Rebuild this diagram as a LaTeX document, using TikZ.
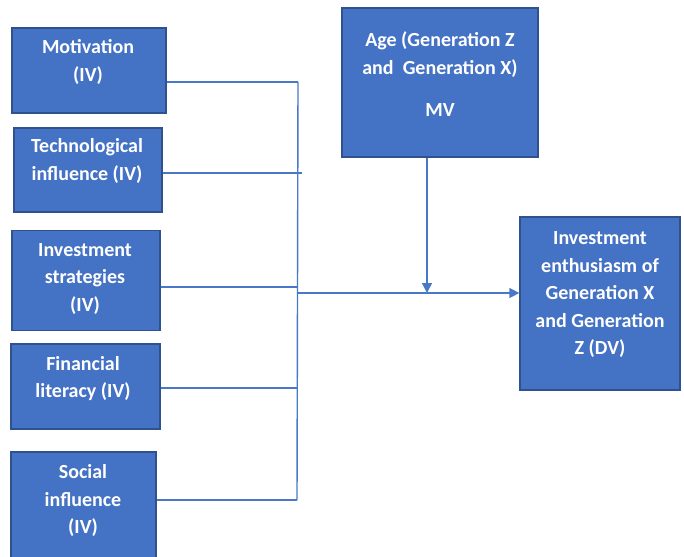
\documentclass[tikz,border=0pt]{standalone}
\usepackage{fontspec}
\setmainfont{Carlito}
\usetikzlibrary{arrows.meta}
\definecolor{boxfill}{HTML}{4472C4}
\definecolor{boxline}{HTML}{2F528F}
\definecolor{conn}{HTML}{4A78C8}
\tikzset{
  varbox/.style={draw=boxline, fill=boxfill, line width=1.3pt, inner sep=0pt},
  vtext/.style={text=white, font=\fontsize{20}{27.5}\selectfont\bfseries, align=center, inner sep=0pt},
  conline/.style={draw=conn, line width=1.4pt},
  conarrow/.style={conline, -{Triangle[length=10pt,width=10pt]}}
}
\begin{document}
\begin{tikzpicture}[x=1pt,y=-1pt]
\useasboundingbox (0,0) rectangle (684,556);
% boxes
\node[varbox, minimum width=154pt, minimum height=85pt] (mot) at (89,70.5) {};
\node[varbox, minimum width=148pt, minimum height=84pt] (tech) at (88,170) {};
\node[varbox, minimum width=148pt, minimum height=100pt] (inv) at (86,280.5) {};
\node[varbox, minimum width=149pt, minimum height=85pt] (fin) at (85.5,386.5) {};
\node[varbox, minimum width=145pt, minimum height=120pt] (soc) at (83.5,512) {};
\node[varbox, minimum width=196pt, minimum height=149pt] (age) at (440,82.5) {};
\node[varbox, minimum width=160pt, minimum height=173pt] (dv) at (600,303.5) {};
% texts
\node[vtext] (motT) at (88,62) {Motivation\\(IV)};
\node[vtext] (techT) at (87,161) {Technological\\influence (IV)};
\node[vtext] (invT) at (85,279) {Investment\\strategies\\(IV)};
\node[vtext] (finT) at (83,378.5) {Financial\\literacy (IV)};
\node[vtext] (socT) at (83,500.5) {Social\\influence\\(IV)};
\node[vtext] (ageT) at (440,54.5) {Age (Generation Z\\and\ \ Generation X)};
\node[vtext] (mvT) at (440,110) {MV};
\node[vtext] (dvT) at (600,295) {Investment\\enthusiasm of\\Generation X\\and Generation\\Z (DV)};
% bus coordinates
\coordinate (bmot) at (298,82);
\coordinate (btech) at (302,173);
\coordinate (binv) at (297,287);
\coordinate (bfin) at (297,388);
\coordinate (bsoc) at (297,500);
\coordinate (btop) at (298,82);
\coordinate (bbot) at (297,500);
\coordinate (bjoin) at (297,293);
\coordinate (mod) at (427,293);
% connectors
\draw[conline] (mot.east |- bmot) -- (bmot);
\draw[conline] (tech.east |- btech) -- (btech);
\draw[conline] (inv.east |- binv) -- (binv);
\draw[conline] (fin.east |- bfin) -- (bfin);
\draw[conline] (soc.east |- bsoc) -- (bsoc);
\draw[conline] (btop) -- (bbot);
\draw[conarrow] (bjoin) -- (dv.west |- bjoin);
\draw[conarrow] (age.south -| mod) -- (mod);
\end{tikzpicture}
\end{document}
